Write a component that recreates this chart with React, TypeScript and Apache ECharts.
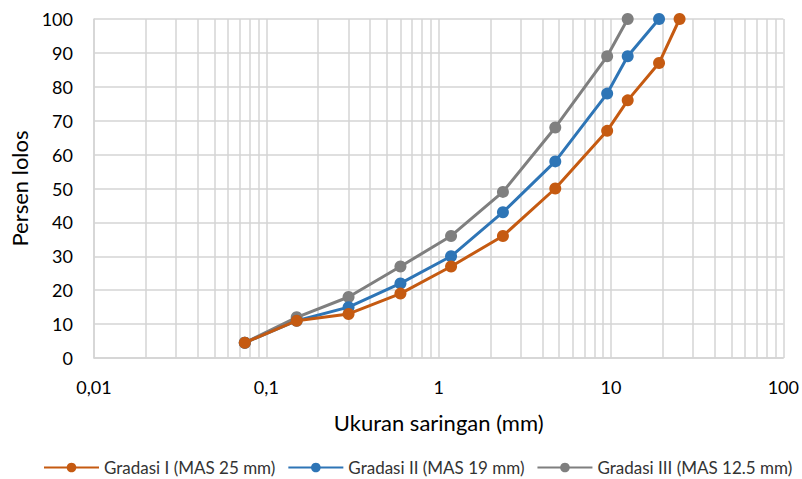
import React, { useEffect, useRef } from "react";
import * as echarts from "echarts";

const sieveSizes = [0.075, 0.15, 0.3, 0.6, 1.18, 2.36, 4.75, 9.5, 12.5, 19, 25];
const gradasiI = [4.5, 11, 13, 19, 27, 36, 50, 67, 76, 87, 100];
const gradasiII = [4.5, 11, 15, 22, 30, 43, 58, 78, 89, 100];
const gradasiIII = [4.5, 12, 18, 27, 36, 49, 68, 89, 100];
const seriesNames = ["Gradasi I (MAS 25 mm)", "Gradasi II (MAS 19 mm)", "Gradasi III (MAS 12.5 mm)"];
const seriesColors = ["#C55A11", "#2E75B6", "#7F7F7F"];
const minorGridValues = [
  0.02, 0.03, 0.04, 0.05, 0.06, 0.07, 0.08, 0.09,
  0.2, 0.3, 0.4, 0.5, 0.6, 0.7, 0.8, 0.9,
  2, 3, 4, 5, 6, 7, 8, 9,
  20, 30, 40, 50, 60, 70, 80, 90,
];

const FONT = "Lato";
const GRID_COLOR = "#d4d4d4";

export default function App() {
  const ref = useRef<HTMLDivElement>(null);
  useEffect(() => {
    if (!ref.current) return;
    const chart = echarts.init(ref.current, undefined, { renderer: "svg" });
    const allValues = [gradasiI, gradasiII, gradasiIII];
    const series: any[] = allValues.map((vals, i) => ({
      name: seriesNames[i],
      type: "line",
      data: vals.map((v, j) => [sieveSizes[j], v]),
      symbol: "circle",
      symbolSize: 12,
      lineStyle: { width: 3, color: seriesColors[i] },
      itemStyle: { color: seriesColors[i] },
      z: 10 - i,
    }));
    series.push({
      type: "line",
      data: [],
      silent: true,
      markLine: {
        silent: true,
        symbol: "none",
        label: { show: false },
        lineStyle: { color: GRID_COLOR, width: 1.5, type: "solid" },
        data: minorGridValues.map((v) => ({ xAxis: v })),
        animation: false,
      },
      z: 1,
    });
    chart.setOption({
      animation: false,
      textStyle: { fontFamily: FONT },
      grid: { left: 94, right: 16, top: 19, bottom: 121, containLabel: false },
      legend: {
        data: seriesNames,
        top: 459,
        left: 43,
        padding: 0,
        itemWidth: 55,
        itemHeight: 12,
        itemGap: 12,
        textStyle: { fontFamily: FONT, fontSize: 17, color: "#333" },
      },
      xAxis: {
        type: "log",
        logBase: 10,
        min: 0.01,
        max: 100,
        name: "Ukuran saringan (mm)",
        nameLocation: "middle",
        nameGap: 53,
        nameTextStyle: { fontFamily: FONT, fontSize: 22, color: "#000" },
        axisLine: { show: true, lineStyle: { color: GRID_COLOR, width: 1.5 } },
        axisTick: { show: false },
        axisLabel: {
          fontFamily: FONT,
          fontSize: 18,
          color: "#000",
          margin: 20,
          formatter: (v: number) => String(v).replace(".", ","),
        },
        splitLine: { show: true, lineStyle: { color: GRID_COLOR, width: 1.5 } },
      },
      yAxis: {
        type: "value",
        min: 0,
        max: 100,
        interval: 10,
        name: "Persen lolos",
        nameLocation: "middle",
        nameGap: 63,
        nameRotate: 90,
        nameTextStyle: { fontFamily: FONT, fontSize: 22, color: "#000" },
        axisLine: { show: true, lineStyle: { color: GRID_COLOR, width: 1.5 } },
        axisTick: { show: false },
        axisLabel: { fontFamily: FONT, fontSize: 18, color: "#000", margin: 21 },
        splitLine: { show: true, lineStyle: { color: GRID_COLOR, width: 1.5 } },
      },
      series,
    });
    return () => chart.dispose();
  }, []);
  return (
    <div
      ref={ref}
      style={{ position: "absolute", left: 0, top: 0, width: 802, height: 479 }}
    />
  );
}
